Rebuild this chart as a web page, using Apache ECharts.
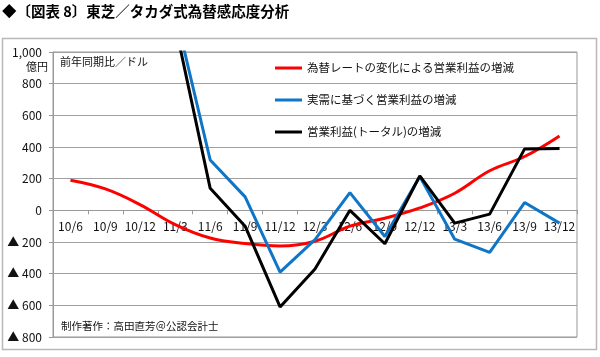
<!DOCTYPE html>
<html><head><meta charset="utf-8">
<script src="https://cdn.jsdelivr.net/npm/echarts@6/dist/echarts.min.js"></script>
<style>html,body{margin:0;padding:0;background:#fff}#c{width:600px;height:357px}</style>
</head><body><div id="c"></div>
<script>
var categories = ['10/6','10/9','10/12','11/3','11/6','11/9','11/12','12/3','12/6','12/9','12/12','13/3','13/6','13/9','13/12'];
var seriesNames = ['為替レートの変化による営業利益の増減','実需に基づく営業利益の増減','営業利益(トータル)の増減'];
var fxEffect = [190, 135, 35, -90, -175, -210, -225, -195, -100, -50, 15, 108, 250, 340, 470];
var realDemand = [null, null, null, 1250, 318, 85, -390, -185, 112, -165, 213, -182, -266, 49, -81];
var totalProfit = [null, null, null, 1170, 139, -100, -610, -371, 0, -211, 218, -81, -24, 388, 390];
var yTicks = {'1000':'1,000','800':'800','600':'600','400':'400','200':'200','0':'0','-200':'▲ 200','-400':'▲ 400','-600':'▲ 600','-800':'▲ 800'};
var titleText = '◆〔図表 8〕東芝／タカダ式為替感応度分析';
var unitText = '億円';
var noteText = '前年同期比／ドル';
var creditText = '制作著作：高田直芳＠公認会計士';

var FONT = '"Noto Sans CJK JP", "Noto Sans", sans-serif';
var Y_MIN = -800, Y_MAX = 1000;
var G = {left: 53, right: 23, top: 52, bottom: 20};
var plotH = 357 - G.top - G.bottom;
var zeroOffset = -plotH * (0 - Y_MIN) / (Y_MAX - Y_MIN);

var chart = echarts.init(document.getElementById('c'), null, {renderer:'canvas'});
chart.setOption({
  animation: false,
  backgroundColor: '#fff',
  textStyle: {fontFamily: FONT},
  grid: {left: G.left, right: G.right, top: G.top, bottom: G.bottom, show: true, borderColor: '#999', borderWidth: 1},
  xAxis: {
    type: 'category', data: categories, boundaryGap: true, position: 'bottom', offset: zeroOffset,
    axisLine: {onZero: false, lineStyle: {color: '#999'}},
    axisTick: {show: true, length: 4, lineStyle: {color: '#999'}},
    axisLabel: {color: '#111', fontSize: 12, fontFamily: FONT, margin: 10, interval: 0},
    splitLine: {show: false}
  },
  yAxis: {
    type: 'value', min: Y_MIN, max: Y_MAX, interval: 200,
    axisLine: {show: true, lineStyle: {color: '#999'}},
    axisTick: {show: true, length: 4, lineStyle: {color: '#999'}},
    splitLine: {show: true, lineStyle: {color: '#a0a0a0', width: 1}},
    axisLabel: {
      color: '#111', fontSize: 12, fontFamily: FONT, margin: 11,
      formatter: function (v) { return yTicks[String(v)] || String(v); }
    }
  },
  legend: {
    orient: 'vertical', left: 270, top: 56,
    itemWidth: 27, itemHeight: 3, itemGap: 18, icon: 'rect',
    textStyle: {fontSize: 11.5, color: '#111', fontFamily: FONT, lineHeight: 14},
    data: seriesNames
  },
  series: [
    {name: seriesNames[0], type: 'line', data: fxEffect, smooth: 0.4, showSymbol: false, symbol: 'none',
     lineStyle: {color: '#ff0000', width: 3}, itemStyle: {color: '#ff0000'}, z: 3},
    {name: seriesNames[1], type: 'line', data: realDemand, showSymbol: false, symbol: 'none',
     lineStyle: {color: '#0f75c6', width: 3}, itemStyle: {color: '#0f75c6'}, z: 4},
    {name: seriesNames[2], type: 'line', data: totalProfit, showSymbol: false, symbol: 'none',
     lineStyle: {color: '#000', width: 3}, itemStyle: {color: '#000'}, z: 5}
  ],
  graphic: [
    {type: 'rect', shape: {x: 2.5, y: 38.5, width: 594, height: 311}, style: {fill: null, stroke: '#b8b8b8', lineWidth: 1.5}, z: -1},
    {type: 'text', left: 2, top: 4, style: {text: titleText, font: 'bold 14.5px ' + FONT, fill: '#000'}},
    {type: 'text', right: 552, top: 61, style: {text: unitText, font: '11px ' + FONT, fill: '#111', textAlign: 'right'}},
    {type: 'text', left: 60, top: 56, style: {text: noteText, font: '11px ' + FONT, fill: '#111'}},
    {type: 'text', left: 61, top: 321, style: {text: creditText, font: '10.5px ' + FONT, fill: '#111'}}
  ]
});
</script></body></html>
